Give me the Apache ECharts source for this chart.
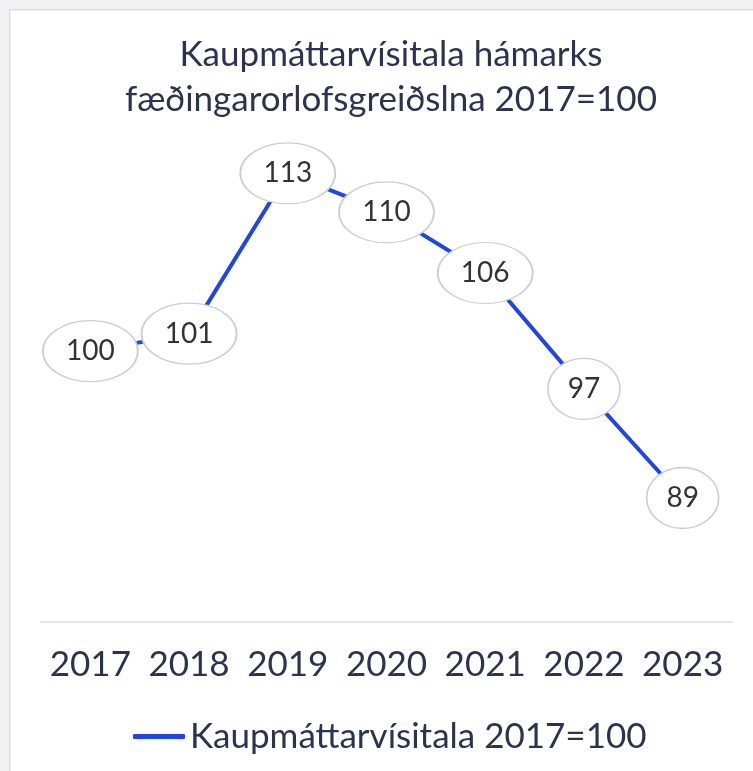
<!DOCTYPE html>
<html>
<head>
<meta charset="utf-8">
<script src="https://cdn.jsdelivr.net/npm/echarts@6/dist/echarts.min.js"></script>
<style>
html,body{margin:0;padding:0;background:#fff;}
#c{width:753px;height:771px;}
</style>
</head>
<body>
<div id="c"></div>
<script>
var categories = ['2017','2018','2019','2020','2021','2022','2023'];
var values = [100.1, 101.4, 113.3, 110.4, 105.9, 97.3, 89.2];
var seriesName = 'Kaupmáttarvísitala 2017=100';
var titleText = 'Kaupmáttarvísitala hámarks\nfæðingarorlofsgreiðslna 2017=100';

var chart = echarts.init(document.getElementById('c'));
var navy = '#2b3350';
var blue = '#1f46e0';
var font = 'Lato';
chart.setOption({
  backgroundColor: '#ffffff',
  animation: false,
  graphic: [
    {type:'rect', shape:{x:0,y:0,width:753,height:9}, style:{fill:'#f1f1f4'}, silent:true},
    {type:'rect', shape:{x:0,y:0,width:9,height:771}, style:{fill:'#f1f1f4'}, silent:true},
    {type:'rect', shape:{x:9,y:9,width:744,height:1.5}, style:{fill:'#dcdce6'}, silent:true},
    {type:'rect', shape:{x:9,y:9,width:1.5,height:762}, style:{fill:'#dcdce6'}, silent:true}
  ],
  title: {
    text: titleText,
    left: 386, textAlign: 'center',
    top: 27,
    textStyle: {fontFamily: font, fontWeight: 'normal', fontSize: 35, lineHeight: 45, color: navy}
  },
  legend: {
    data: [{name: seriesName, icon: 'roundRect'}],
    left: 128, top: 714,
    itemWidth: 52, itemHeight: 5,
    itemStyle: {color: blue, borderWidth: 0},
    textStyle: {fontFamily: font, fontSize: 35, color: navy}
  },
  grid: {left: 41, right: 21, top: 83, bottom: 149},
  xAxis: {
    type: 'category',
    data: categories,
    boundaryGap: true,
    axisLine: {show: true, lineStyle: {color: '#e4e4e8', width: 2}},
    axisTick: {show: false},
    axisLabel: {interval: 0, fontFamily: font, fontSize: 35, color: navy, margin: 25}
  },
  yAxis: {
    type: 'value', min: 80, max: 120, show: false,
    splitLine: {show: false}
  },
  series: [{
    name: seriesName,
    type: 'line',
    data: values,
    color: blue,
    lineStyle: {width: 4, color: blue},
    symbol: 'path://M50,0 A50,50 0 1,1 50,100 A50,50 0 1,1 50,0 Z',
    symbolSize: function (v) { return String(Math.round(v)).length >= 3 ? [95, 61] : [72, 61]; },
    itemStyle: {color: '#ffffff', borderColor: '#cdcdd8', borderWidth: 1.5},
    label: {
      show: true, position: 'inside',
      formatter: function (p) { return String(Math.round(p.value)); },
      fontFamily: font, fontSize: 28, color: '#333333'
    }
  }]
});
</script>
</body>
</html>
